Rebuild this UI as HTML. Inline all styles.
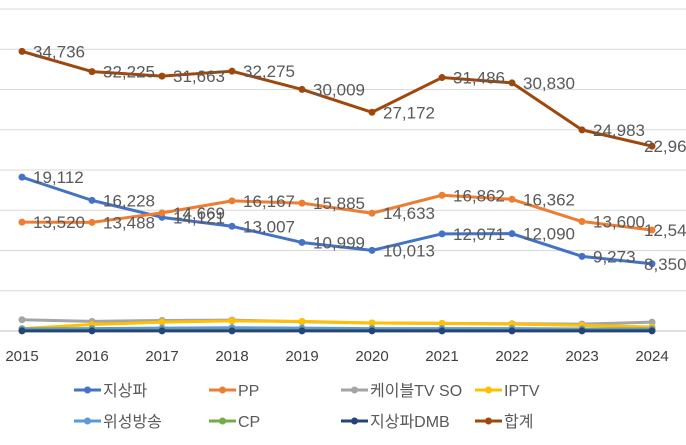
<!DOCTYPE html>
<html><head><meta charset="utf-8"><style>
body{margin:0;background:#fff;width:686px;height:440px;overflow:hidden}
svg{font-family:"Liberation Sans","Noto Sans CJK KR",sans-serif}
</style></head><body>
<svg id="c" width="686" height="440"></svg>
<script>
const years=["2015","2016","2017","2018","2019","2020","2021","2022","2023","2024"];
const terrestrial=[19112,16228,14121,13007,10999,10013,12071,12090,9273,8350];
const pp=[13520,13488,14669,16167,15885,14633,16862,16362,13600,12540];
const cable=[1400,1200,1300,1350,1150,1000,950,900,850,1100];
const iptv=[300,800,1100,1250,1200,1000,950,850,700,500];
const satellite=[250,300,350,400,350,300,300,300,250,250];
const cp=[50,50,60,60,60,50,50,50,50,50];
const dmb=[20,20,20,20,20,20,20,20,20,20];
const total=[34736,32225,31663,32275,30009,27172,31486,30830,24983,22960];
const gridTicks=[0,5000,10000,15000,20000,25000,30000,35000,40000];
const legendNames=["지상파","PP","케이블TV SO","IPTV","위성방송","CP","지상파DMB","합계"];
const ns="http://www.w3.org/2000/svg",svg=document.getElementById('c');
const X=i=>22+i*70, Y=v=>331-v*(322/40000);
function el(t,a,p){const e=document.createElementNS(ns,t);for(const k in a)e.setAttribute(k,a[k]);(p||svg).appendChild(e);return e;}
gridTicks.forEach((t,i)=>{const g=el('line',{x1:0,x2:686,y1:Y(t),y2:Y(t),stroke:i?'#d9d9d9':'#bfbfbf','stroke-width':1});

});
years.forEach((y,i)=>{const t=el('text',{x:X(i),y:361,'text-anchor':'middle','font-size':15,fill:'#404040'});t.textContent=y;

});
const series=[[terrestrial,'#4472c4','terrestrial',1],[pp,'#ed7d31','pp',1],[cable,'#a5a5a5','cable-tv-so',0],[iptv,'#ffc000','iptv',0],[satellite,'#5b9bd5','satellite',0],[cp,'#70ad47','cp',0],[dmb,'#264478','terrestrial-dmb',0],[total,'#9e480e','total',1]];
series.forEach(([d,c,n,lab])=>{
 const g=el('g',{});
 
 
 el('polyline',{points:d.map((v,i)=>X(i)+','+Y(v)).join(' '),fill:'none',stroke:c,'stroke-width':3,'stroke-linejoin':'round'},g);
 d.forEach((v,i)=>{const p=el('circle',{cx:X(i),cy:Y(v),r:3.5,fill:c},g);
  
  
  if(lab){const off=i===d.length-1?-8:11;const t=el('text',{x:X(i)+off,y:Y(v)+6,'font-size':17,fill:'#595959'},g);t.textContent=v.toLocaleString('en-US');
  
  }
 });
});
const lx=[74,209,341,475],ly=[390,421];
const lorder=[0,1,2,3,4,5,6,7];
lorder.forEach(i=>{const x=lx[i%4],y=ly[Math.floor(i/4)],c=series[i][1];
 const g=el('g',{});
 
 
 el('line',{x1:x,x2:x+27,y1:y,y2:y,stroke:c,'stroke-width':3},g);
 el('circle',{cx:x+13.5,cy:y,r:3.5,fill:c},g);
 const t=el('text',{x:x+29,y:y+6,'font-size':16,fill:'#595959'},g);t.textContent=legendNames[i];});
</script>
</body></html>
